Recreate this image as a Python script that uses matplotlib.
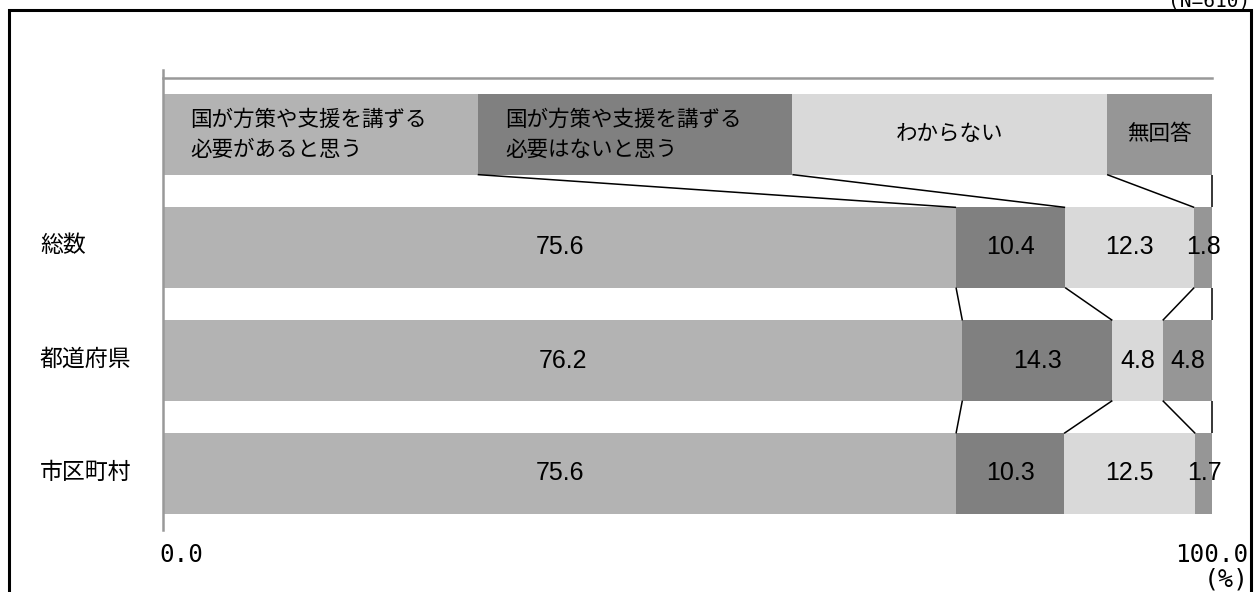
import numpy as np
import matplotlib
matplotlib.use("Agg")
import matplotlib.pyplot as plt
from matplotlib.patches import Rectangle

plt.rcParams['font.family'] = ['Noto Sans CJK JP', 'DejaVu Sans']

categories = ["総数", "都道府県", "市区町村"]
answers = ["国が方策や支援を講ずる\n必要があると思う",
           "国が方策や支援を講ずる\n必要はないと思う",
           "わからない",
           "無回答"]
legend_widths = [30, 30, 30, 10]
values = np.array([
    [75.6, 10.4, 12.3, 1.8],
    [76.2, 14.3, 4.8, 4.8],
    [75.6, 10.3, 12.5, 1.7],
])
tick_labels = ["0.0", "100.0"]
colors = ["#b3b3b3", "#808080", "#d9d9d9", "#969696"]

W, H = 1260, 592
fig = plt.figure(figsize=(W / 100, H / 100), dpi=100)
ax = fig.add_axes([163 / W, 62 / H, (1212 - 163) / W, (530 - 78) / H])

h = 0.71
rows = [legend_widths] + [list(v) for v in values]
lefts_all = []
for r, row in enumerate(rows):
    left = 0.0
    lefts = [0.0]
    for k, w in enumerate(row):
        ax.barh(r, w, left=left, height=h, color=colors[k], linewidth=0)
        if r == 0:
            if k < 2:
                ax.text(left + 2.6, r, answers[k], ha="left", va="center",
                        fontsize=15.5, linespacing=1.45)
            else:
                ax.text(left + w / 2, r, answers[k], ha="center", va="center",
                        fontsize=15.5)
        else:
            ax.text(left + w / 2, r, "%.1f" % w, ha="center", va="center",
                    fontsize=18, family="Liberation Sans", clip_on=False)
        left += w
        lefts.append(left)
    lefts_all.append(lefts)

# connector lines between boundaries of consecutive rows
for r in range(len(rows) - 1):
    for k in range(1, 5):
        x1 = min(lefts_all[r][k], 100)
        x2 = min(lefts_all[r + 1][k], 100)
        ax.plot([x1, x2], [r + h / 2, r + 1 - h / 2], color="black", lw=1.1,
                clip_on=False, solid_capstyle="butt")

ax.set_xlim(0, 100)
ax.set_ylim(3.5, -0.5)
ax.set_yticks([])
ax.set_xticks([])
for s in ["right", "bottom"]:
    ax.spines[s].set_visible(False)
for s in ["top", "left"]:
    ax.spines[s].set_color("#999999")
    ax.spines[s].set_linewidth(1.8)
ax.spines["left"].set_bounds(3.5, -0.57)

for i, c in enumerate(categories):
    fig.text(40 / W, 1 - (246 + 113 * i) / H, c, ha="left", va="center",
             fontsize=16.5)

fig.text(159 / W, 1 - 555 / H, tick_labels[0], ha="left", va="center",
         fontsize=17.5, family="DejaVu Sans Mono")
fig.text(1248 / W, 1 - 555 / H, tick_labels[1], ha="right", va="center",
         fontsize=17.5, family="DejaVu Sans Mono")
fig.text(1249 / W, 1 - 579 / H, "(%)", ha="right", va="center",
         fontsize=18, family="DejaVu Sans Mono")
fig.text(1250 / W, 1 - 1 / H, "(N=610)", ha="right", va="center",
         fontsize=14, family="DejaVu Sans Mono")

fig.add_artist(Rectangle((9 / W, -0.05), (1251 - 9) / W, 1.05 - 10 / H,
                         transform=fig.transFigure, fill=False,
                         edgecolor="black", lw=2.2))

fig.savefig("out.png", dpi=100)
